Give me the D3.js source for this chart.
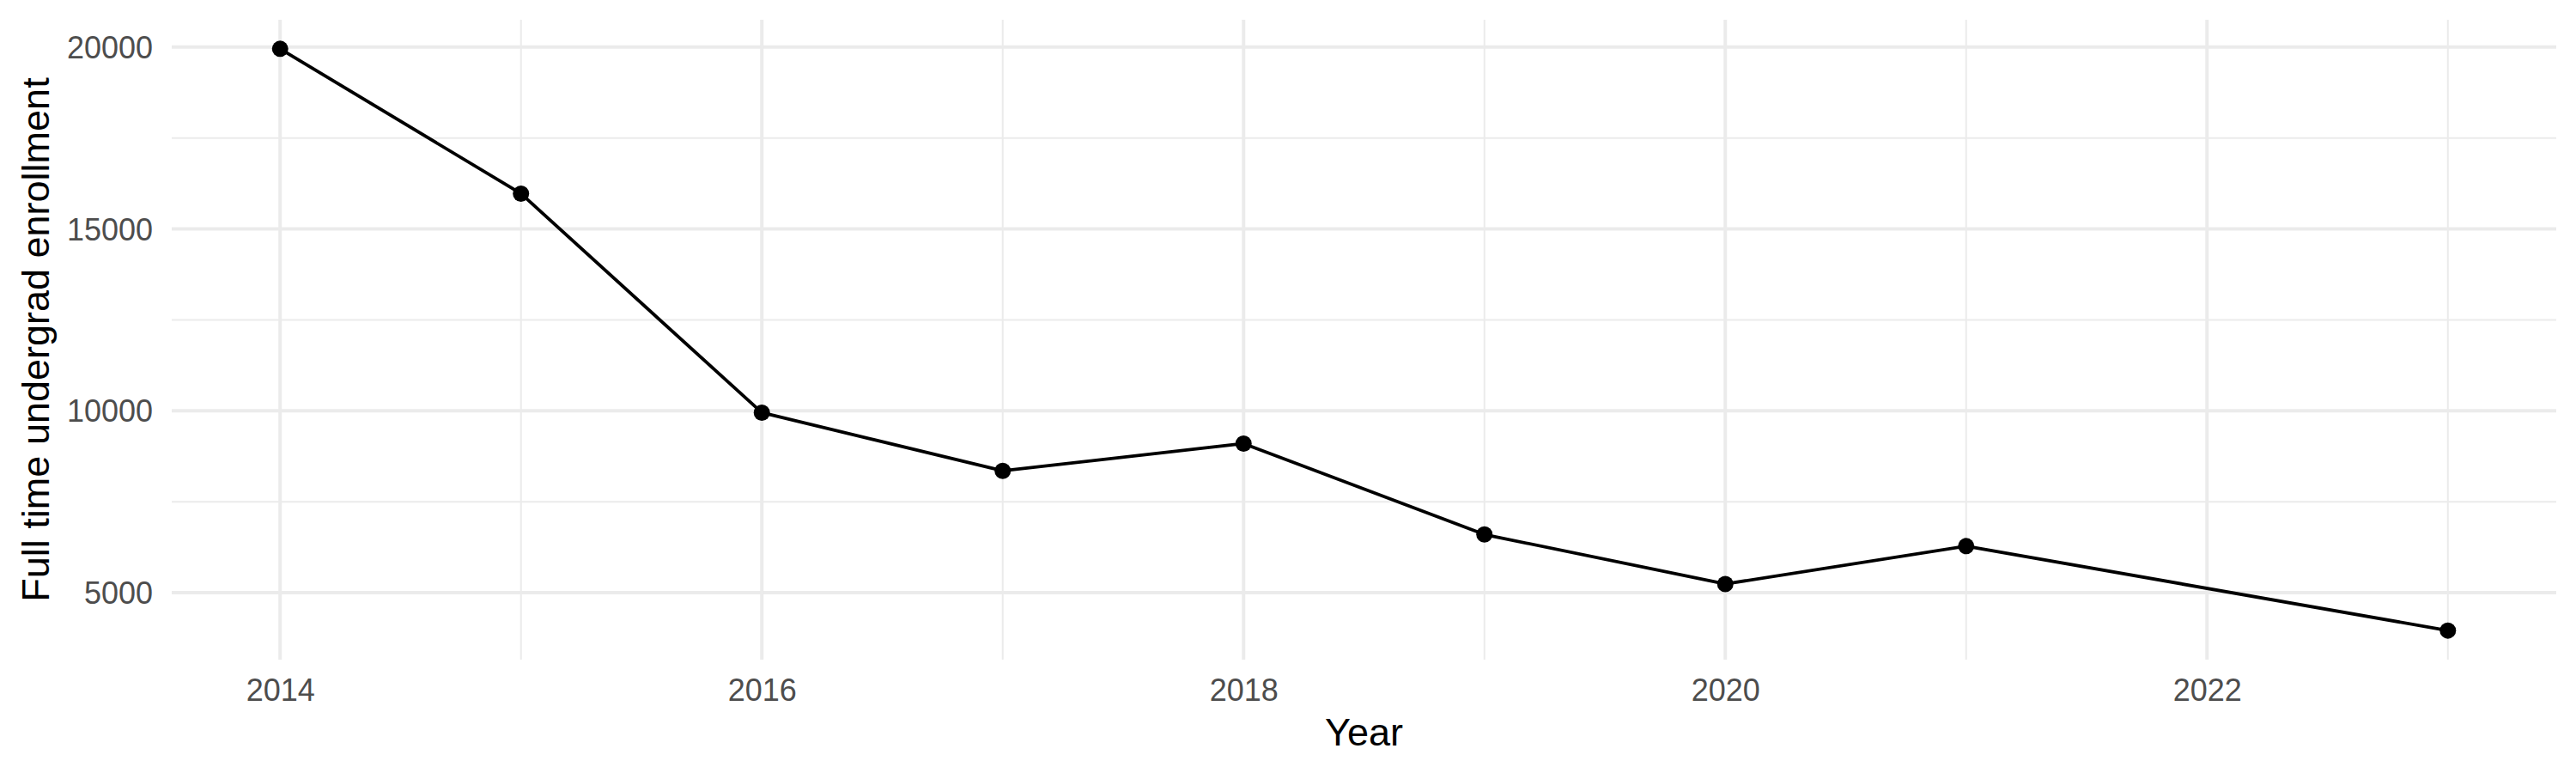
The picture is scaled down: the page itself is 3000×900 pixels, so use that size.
<!DOCTYPE html>
<html>
<head>
<meta charset="utf-8">
<script src="https://cdn.jsdelivr.net/npm/d3@7"></script>
<style>
  html, body { margin: 0; padding: 0; background: #fff; }
  svg { display: block; font-family: "Liberation Sans", Arial, sans-serif; }
  .grid-major { stroke: #ebebeb; stroke-width: 4; }
  .grid-minor { stroke: #ebebeb; stroke-width: 2; }
  .tick-label { fill: #4d4d4d; font-size: 36px; }
  .axis-title { fill: #000; font-size: 45px; }
</style>
</head>
<body>
<svg id="viz" width="3000" height="900"></svg>
<script>
// enrollment by year (2022 has no record)
const years = [2014, 2015, 2016, 2017, 2018, 2019, 2020, 2021, 2023];
const enrollment = [19950, 15970, 9950, 8350, 9100, 6600, 5240, 6280, 3960];

const xMajor = [2014, 2016, 2018, 2020, 2022];
const xMinor = [2015, 2017, 2019, 2021, 2023];
const yMajor = [5000, 10000, 15000, 20000];
const yMinor = [7500, 12500, 17500];

const xTitle = "Year";
const yTitle = "Full time undergrad enrollment";

const svg = d3.select("#viz");
const W = 3000, H = 900;
const panel = { left: 200, right: 2977, top: 23, bottom: 768 };

// ggplot style 5% expansion
function expand(ext) {
  const pad = (ext[1] - ext[0]) * 0.05;
  return [ext[0] - pad, ext[1] + pad];
}

const x = d3.scaleLinear()
  .domain(expand(d3.extent(years)))
  .range([panel.left, panel.right]);
const y = d3.scaleLinear()
  .domain(expand(d3.extent(enrollment)))
  .range([panel.bottom, panel.top]);

const gridG = svg.append("g");

gridG.selectAll(".gy-minor").data(yMinor).join("line")
  .attr("class", "grid-minor")
  .attr("x1", panel.left).attr("x2", panel.right)
  .attr("y1", d => y(d)).attr("y2", d => y(d));
gridG.selectAll(".gx-minor").data(xMinor).join("line")
  .attr("class", "grid-minor")
  .attr("y1", panel.top).attr("y2", panel.bottom)
  .attr("x1", d => x(d)).attr("x2", d => x(d));
gridG.selectAll(".gy-major").data(yMajor).join("line")
  .attr("class", "grid-major")
  .attr("x1", panel.left).attr("x2", panel.right)
  .attr("y1", d => y(d)).attr("y2", d => y(d));
gridG.selectAll(".gx-major").data(xMajor).join("line")
  .attr("class", "grid-major")
  .attr("y1", panel.top).attr("y2", panel.bottom)
  .attr("x1", d => x(d)).attr("x2", d => x(d));

// axes, no domain line / tick marks
const xAxis = svg.append("g")
  .attr("transform", `translate(0,${panel.bottom})`)
  .call(d3.axisBottom(x).tickValues(xMajor).tickFormat(d3.format("d")).tickSize(0).tickPadding(0));
const yAxis = svg.append("g")
  .attr("transform", `translate(${panel.left},0)`)
  .call(d3.axisLeft(y).tickValues(yMajor).tickFormat(d3.format("d")).tickSize(0).tickPadding(0));
[xAxis, yAxis].forEach(g => {
  g.select(".domain").remove();
  g.selectAll("text").attr("class", "tick-label").attr("font-family", null).attr("font-size", null);
});
xAxis.selectAll("text").attr("dy", null).attr("y", 48);
yAxis.selectAll("text").attr("dy", "0.35em").attr("x", -22);

// line + points
const pts = years.map((yr, i) => [yr, enrollment[i]]);
svg.append("path")
  .datum(pts)
  .attr("fill", "none")
  .attr("stroke", "#000")
  .attr("stroke-width", 3.8)
  .attr("stroke-linejoin", "round")
  .attr("d", d3.line().x(d => x(d[0])).y(d => y(d[1])));
svg.append("g").selectAll("circle").data(pts).join("circle")
  .attr("cx", d => x(d[0]))
  .attr("cy", d => y(d[1]))
  .attr("r", 9.5)
  .attr("fill", "#000");

// titles
svg.append("text")
  .attr("class", "axis-title")
  .attr("x", (panel.left + panel.right) / 2)
  .attr("y", 868)
  .attr("text-anchor", "middle")
  .text(xTitle);
svg.append("text")
  .attr("class", "axis-title")
  .attr("transform", `translate(57,${(panel.top + panel.bottom) / 2}) rotate(-90)`)
  .attr("text-anchor", "middle")
  .text(yTitle);
</script>
</body>
</html>
